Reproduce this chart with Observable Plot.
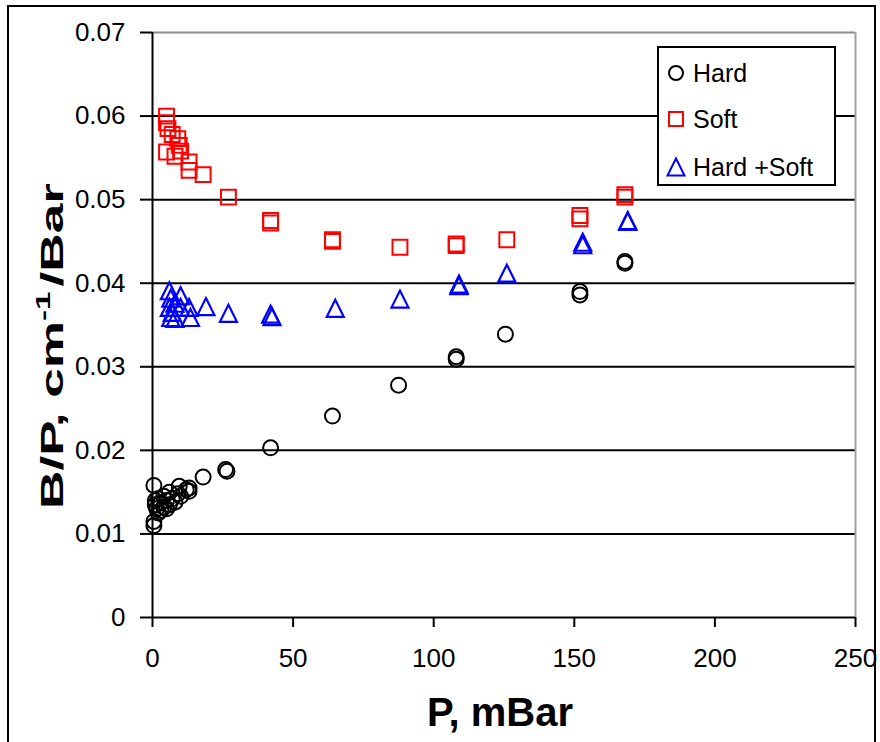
<!DOCTYPE html>
<html>
<head>
<meta charset="utf-8">
<script src="https://cdn.jsdelivr.net/npm/d3@7"></script>
<script src="https://cdn.jsdelivr.net/npm/@observablehq/plot@0.6"></script>
<style>
  html, body { margin: 0; padding: 0; background: #fff; }
  #wrap { position: relative; width: 880px; height: 742px; overflow: hidden; font-family: "Liberation Sans", Arial, sans-serif; }
  #border { position: absolute; left: 7px; top: 5px; width: 869px; height: 760px; border: 2px solid #000; box-sizing: border-box; }
  #chart { position: absolute; left: 0; top: 0; }
  #ytitle { position: absolute; left: 52px; top: 346px; transform: translate(-50%, -50%) rotate(-90deg) scaleX(1.66); font-weight: bold; font-size: 32px; white-space: nowrap; color: #000; }
  #ytitle sup { font-size: 20px; vertical-align: 0; position: relative; top: -13px; margin-right: 3px; }
  #xtitle { position: absolute; left: 500px; top: 712px; transform: translate(-50%, -50%); font-weight: bold; font-size: 40px; white-space: nowrap; }
  #legend { position: absolute; left: 657px; top: 46px; width: 179px; height: 140px; border: 2px solid #000; box-sizing: border-box; background: #fff; }
</style>
</head>
<body>
<div id="wrap">
  <div id="border"></div>
  <div id="chart"></div>
  <div id="ytitle">B/P, cm<sup>-1</sup>/Bar</div>
  <div id="xtitle">P, mBar</div>
  <div id="legend"></div>
</div>
<script>
// ---- data ----
const hardP = [0.5,0.5,0.5,1,1,1.5,2,2,3,3,4,4,5,5,6,6,7,8,9,9.5,10,12,13,13,18,26,26.5,42,64,87.5,108,108,125.5,152,152,168,168];
const hardB = [0.0110,0.0115,0.0158,0.0140,0.0135,0.0130,0.0142,0.0125,0.0137,0.0128,0.0132,0.0145,0.0130,0.0140,0.0150,0.0135,0.0142,0.0138,0.0148,0.0157,0.0145,0.0153,0.0155,0.0151,0.0168,0.0177,0.0175,0.0203,0.0241,0.0278,0.0312,0.0309,0.0339,0.0390,0.0386,0.0426,0.0424];

const softP = [5,5,5.5,7,9,9.5,5,8,10,13,13,18,27,42,42,64,64,88,108,108,126,152,152,168,168];
const softB = [0.0600,0.0592,0.0585,0.0578,0.0573,0.0565,0.0557,0.0552,0.0558,0.0545,0.0535,0.0530,0.0503,0.0475,0.0472,0.0452,0.0450,0.0443,0.0447,0.0445,0.0452,0.0481,0.0477,0.0506,0.0503];

const bothP = [6,6.5,10,6,10,13,19,27,6.5,13.5,8,8,7,42,42.5,65,88,109,109,126,153,153,169,169];
const bothB = [0.0391,0.0382,0.0385,0.0371,0.0371,0.0371,0.0372,0.0364,0.0359,0.0359,0.0358,0.0376,0.0365,0.0363,0.0360,0.0370,0.0381,0.0399,0.0397,0.0412,0.0449,0.0446,0.0475,0.0474];

const seriesNames = ["Hard", "Soft", "Hard +Soft"];
const seriesColors = ["#000000", "#ff0000", "#0000ff"];
const xTicks = [0, 50, 100, 150, 200, 250];
const yTicks = [0, 0.01, 0.02, 0.03, 0.04, 0.05, 0.06, 0.07];
const gridY = [0.01, 0.02, 0.03, 0.04, 0.05, 0.06];

const toRows = (xs, ys) => xs.map((x, i) => ({x, y: ys[i]}));
const hard = toRows(hardP, hardB);
const soft = toRows(softP, softB);
const both = toRows(bothP, bothB);

// Excel-like triangle (height == width)
const triExcel = {
  draw(ctx, size) {
    const a = Math.sqrt(size / Math.PI);
    ctx.moveTo(0, -a);
    ctx.lineTo(a, a);
    ctx.lineTo(-a, a);
    ctx.closePath();
  }
};

const chart = Plot.plot({
  width: 880,
  height: 742,
  marginLeft: 152,
  marginRight: 25,
  marginTop: 32,
  marginBottom: 125,
  x: {domain: [0, 250]},
  y: {domain: [0, 0.07]},
  style: {fontFamily: "'Liberation Sans', Arial, sans-serif", background: "transparent", color: "#000", overflow: "visible"},
  marks: [
    Plot.ruleY(gridY, {stroke: "#000", strokeWidth: 2}),
    Plot.ruleY([0.07], {stroke: "#8c8c8c", strokeWidth: 2}),
    Plot.ruleX([250], {stroke: "#a0a0a0", strokeWidth: 2}),
    Plot.axisY({ticks: yTicks, tickSize: 12, tickPadding: 15, fontSize: 26, strokeWidth: 2, label: null,
      tickFormat: d => d === 0 ? "0" : d.toFixed(2)}),
    Plot.axisX({ticks: xTicks, tickSize: 10, tickPadding: 21, fontSize: 26, strokeWidth: 2, label: null}),
    Plot.ruleX([0], {stroke: "#000", strokeWidth: 2}),
    Plot.ruleY([0], {stroke: "#000", strokeWidth: 2}),
    Plot.dot(hard, {x: "x", y: "y", symbol: "circle", r: 7.5, stroke: seriesColors[0], strokeWidth: 2, fill: "none"}),
    Plot.dot(soft, {x: "x", y: "y", symbol: "square", r: 8.4, stroke: seriesColors[1], strokeWidth: 2, fill: "none"}),
    Plot.dot(both, {x: "x", y: "y", symbol: triExcel, r: 8.5, stroke: seriesColors[2], strokeWidth: 2.2, fill: "none"})
  ]
});
document.getElementById("chart").appendChild(chart);

// ---- legend ----
const legSymbols = [d3.symbolCircle, d3.symbolSquare, triExcel];
const legSizes = [Math.PI * 7 * 7, 14 * 14, Math.PI * 8.5 * 8.5];
const lsvg = d3.select("#legend").append("svg").attr("width", 175).attr("height", 136)
  .style("position", "absolute").style("left", "0px").style("top", "0px");
const rowsY = [25, 71, 119];
seriesNames.forEach((name, i) => {
  const g = lsvg.append("g").attr("transform", `translate(17,${rowsY[i]})`);
  g.append("path").attr("d", d3.symbol(legSymbols[i], legSizes[i])())
    .attr("fill", "none").attr("stroke", seriesColors[i]).attr("stroke-width", 2);
  g.append("text").attr("x", 17).attr("y", 0).attr("dy", "0.36em")
    .attr("font-family", "'Liberation Sans', Arial, sans-serif").attr("font-size", 25)
    .attr("fill", "#000").text(name);
});
</script>
</body>
</html>
